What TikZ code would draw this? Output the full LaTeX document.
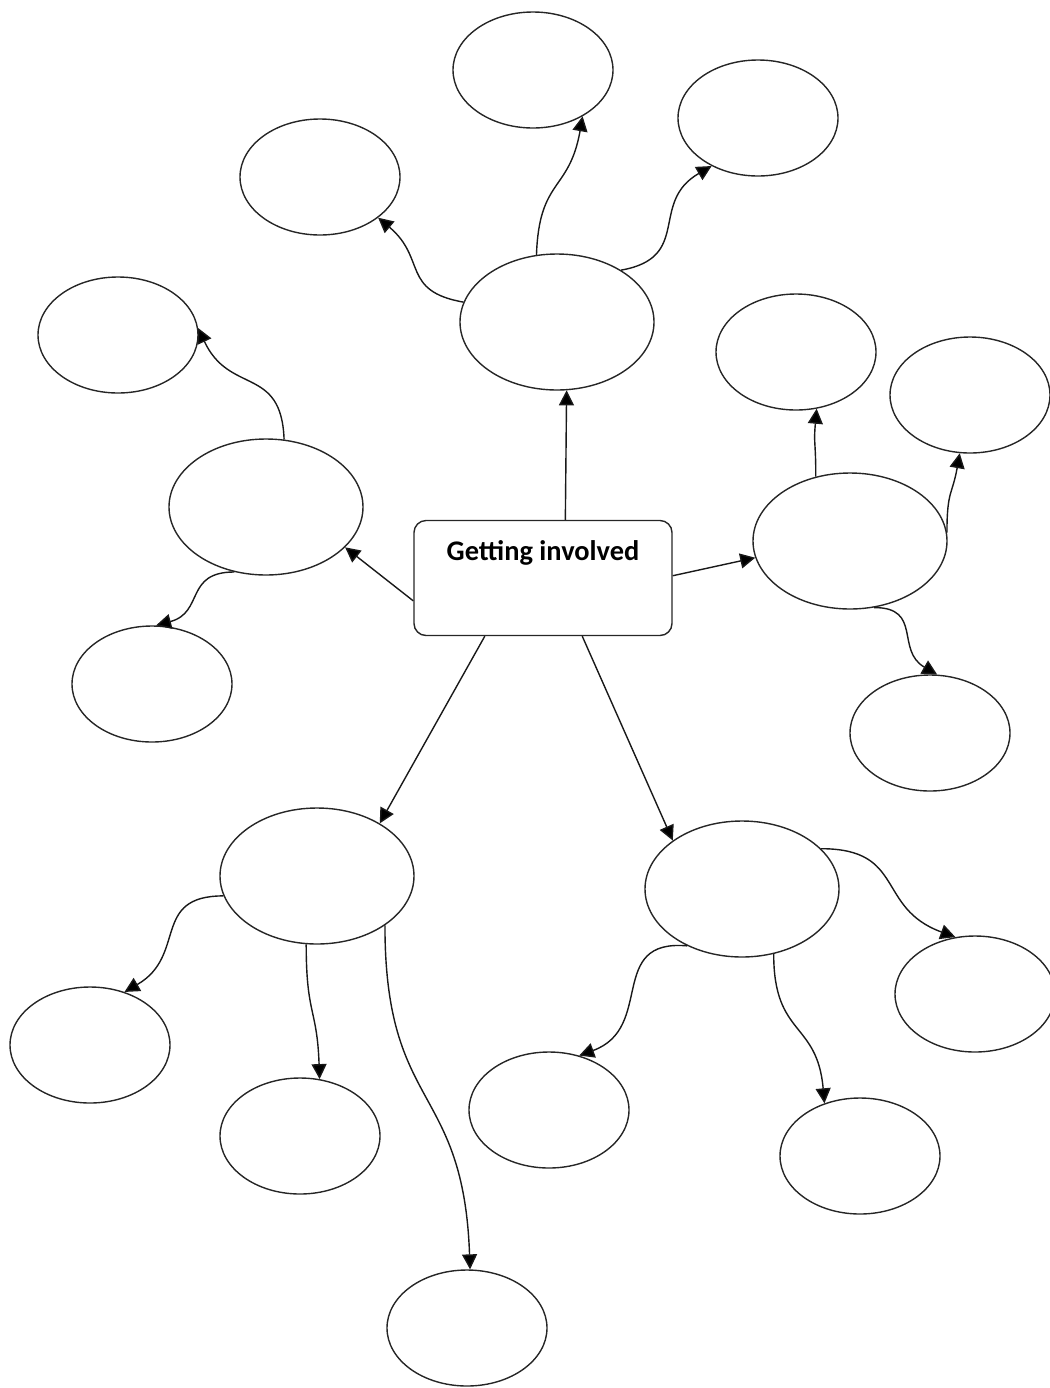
\documentclass[tikz,border=0pt]{standalone}
\usepackage{fontspec}
\setmainfont{Carlito}
\usetikzlibrary{shapes.geometric,arrows.meta}
\begin{document}
\begin{tikzpicture}[x=0.5pt,y=0.5pt,
  line width=0.7pt,
  bubble/.style={draw=black!85,ellipse,inner sep=0pt,minimum width=80pt,minimum height=58pt},
  hub/.style={draw=black!85,ellipse,inner sep=0pt,minimum width=97pt,minimum height=68pt},
  mainbox/.style={draw=black!85,rounded corners=6pt,minimum width=129pt,minimum height=57.5pt,inner sep=0pt},
  titletext/.style={font=\fontsize{14.2}{16}\selectfont\bfseries,inner sep=0pt},
  conn/.style={draw=black!90,-{Triangle[length=7.5pt,width=7.5pt,fill=black]}},
  scurve/.style={conn,looseness=1.35}]
\useasboundingbox (0,0) rectangle (1050,-1388);
% central box
\node[mainbox] (rect) at (543,-578) {};
\node[titletext] (title) at ([yshift=-16.5pt]rect.north) {Getting involved};
% hubs
\node[hub] (hubT) at (557,-322) {};
\node[hub] (hubL) at (266,-507) {};
\node[hub] (hubR) at (850,-541) {};
\node[hub] (hubBL) at (317,-876) {};
\node[hub] (hubBR) at (742,-889) {};
% leaves
\node[bubble] (t1) at (533,-70) {};
\node[bubble] (t2) at (758,-118) {};
\node[bubble] (t3) at (320,-177) {};
\node[bubble] (l1) at (118,-335) {};
\node[bubble] (l2) at (152,-684) {};
\node[bubble] (r1) at (796,-352) {};
\node[bubble] (r2) at (970,-395) {};
\node[bubble] (r3) at (930,-733) {};
\node[bubble] (bl1) at (90,-1045) {};
\node[bubble] (bl2) at (300,-1136) {};
\node[bubble] (bl3) at (467,-1328) {};
\node[bubble] (br1) at (975,-994) {};
\node[bubble] (br2) at (549,-1110) {};
\node[bubble] (br3) at (860,-1156) {};
% straight connectors from the box
\draw[conn] (rect.69) -- (hubT.-82);
\draw[conn] (rect.190) -- (hubL.-27);
\draw[conn] (rect.1) -- (hubR.190);
\draw[conn] (rect.-135) -- (hubBL.40);
\draw[conn] (rect.-56) -- (hubBR.145);
% curved connectors
\draw[scurve] (hubT.107) to[out=88,in=-100] (t1.-43);
\draw[scurve] (hubT.39) to[out=10,in=210] (t2.226);
\draw[scurve] (hubT.168) to[out=170,in=-40] (t3.-35);
\draw[scurve] (hubL.75) to[out=92,in=-65] (l1.5);
\draw[scurve] (hubL.244) to[out=180,in=15] (l2.86);
\draw[scurve] (hubR.118) to[out=90,in=-95] (r1.-70);
\draw[scurve] (hubR.5) to[out=90,in=-100] (r2.-100);
\draw[scurve] (hubR.-70) to[out=0,in=150] (r3.83);
\draw[scurve] (hubBL.192) to[out=180,in=30] (bl1.57);
\draw[scurve] (hubBL.-99) to[out=-90,in=92] (bl2.71);
\draw[scurve] (hubBL.-36) to[out=-90,in=92] (bl3.87);
\draw[scurve] (hubBR.226) to[out=175,in=20] (br2.61);
\draw[scurve] (hubBR.-64) to[out=-90,in=95] (br3.124);
\draw[scurve] (hubBR.27) to[out=0,in=160] (br1.109);
\end{tikzpicture}
\end{document}
